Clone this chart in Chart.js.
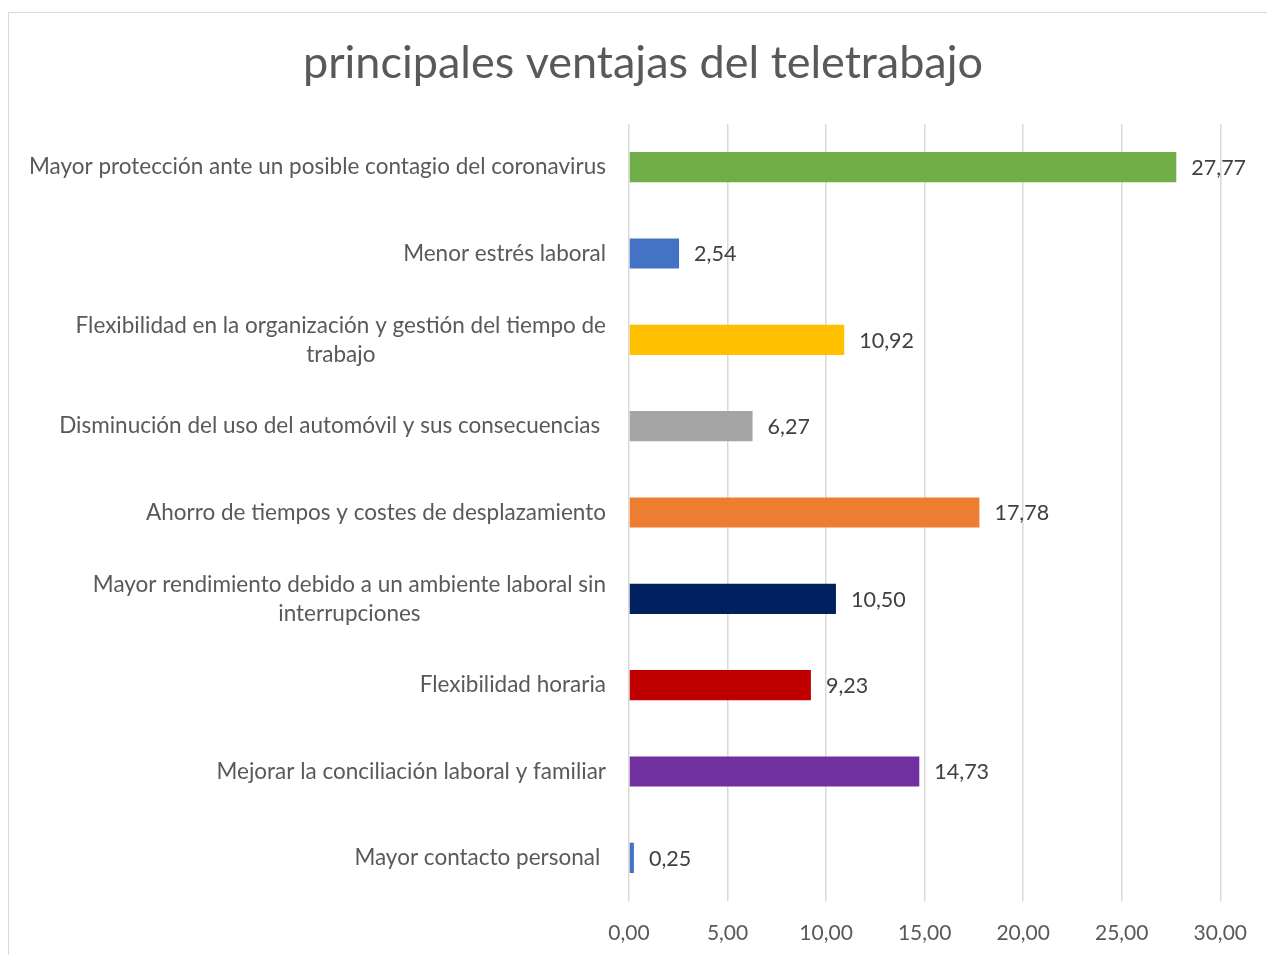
<!DOCTYPE html>
<html>
<head>
<meta charset="utf-8">
<script src="https://cdn.jsdelivr.net/npm/chart.js@4/dist/chart.umd.min.js"></script>
<style>
  html, body { margin: 0; padding: 0; background: #fff; overflow: hidden; }
  #wrap { width: 1267px; height: 955px; position: relative; }
</style>
</head>
<body>
<div id="wrap"><canvas id="chart"></canvas></div>
<script>
// categories, top to bottom (multi-line labels as arrays)
const categories = [
    'Mayor protección ante un posible contagio del coronavirus',
    'Menor estrés laboral',
    ['Flexibilidad en la organización y gestión del tiempo de', 'trabajo'],
    'Disminución del uso del automóvil y sus consecuencias ',
    'Ahorro de tiempos y costes de desplazamiento',
    ['Mayor rendimiento debido a un ambiente laboral sin', 'interrupciones'],
    'Flexibilidad horaria',
    'Mejorar la conciliación laboral y familiar',
    'Mayor contacto personal '
];
const values = [27.77, 2.54, 10.92, 6.27, 17.78, 10.50, 9.23, 14.73, 0.25];
const barColors = ['#70AD47', '#4472C4', '#FFC000', '#A5A5A5', '#ED7D31', '#002060', '#C00000', '#7030A0', '#4472C4'];
const xTicks = [0, 5, 10, 15, 20, 25, 30];
const chartTitle = 'principales ventajas del teletrabajo';

const FONT = 'Lato, "Open Sans", sans-serif';
const fmt = v => v.toFixed(2).replace('.', ',');

// outer border of the chart box + title
const boxPlugin = {
    id: 'box',
    beforeDraw(chart) {
        const ctx = chart.ctx;
        ctx.save();
        ctx.strokeStyle = '#d9d9d9';
        ctx.lineWidth = 1;
        ctx.strokeRect(8.5, 12.5, 1400, 1000);
        ctx.font = '45px ' + FONT;
        ctx.fillStyle = '#595959';
        ctx.textAlign = 'center';
        ctx.textBaseline = 'middle';
        ctx.fillText(chartTitle, 643, 63);
        ctx.restore();
    }
};

// category labels (right aligned, wrapped lines centered) and value labels
const labelPlugin = {
    id: 'labels',
    afterDraw(chart) {
        const ctx = chart.ctx;
        const yScale = chart.scales.y;
        ctx.save();
        ctx.font = '22.5px ' + FONT;
        ctx.textBaseline = 'middle';
        ctx.fillStyle = '#595959';
        const right = 606;
        const lh = 29;
        categories.forEach((lab, i) => {
            const y = yScale.getPixelForTick(i);
            const lines = Array.isArray(lab) ? lab : [lab];
            const maxW = Math.max(...lines.map(l => ctx.measureText(l).width));
            const cx = right - maxW / 2;
            ctx.textAlign = 'center';
            lines.forEach((l, j) => {
                ctx.fillText(l, cx, y + (j - (lines.length - 1) / 2) * lh);
            });
        });
        // value labels
        ctx.font = '21.5px ' + FONT;
        ctx.fillStyle = '#404040';
        ctx.textAlign = 'left';
        const meta = chart.getDatasetMeta(0);
        meta.data.forEach((bar, i) => {
            ctx.fillText(fmt(values[i]), bar.x + 15, bar.y + 1);
        });
        ctx.restore();
    }
};

new Chart(document.getElementById('chart'), {
    type: 'bar',
    data: {
        labels: categories,
        datasets: [{
            data: values,
            backgroundColor: barColors,
            borderWidth: 0,
            barPercentage: 0.7,
            categoryPercentage: 0.5
        }]
    },
    options: {
        indexAxis: 'y',
        responsive: true,
        maintainAspectRatio: false,
        animation: false,
        layout: { padding: { left: 0, right: 43, top: 124, bottom: 0 } },
        plugins: {
            legend: { display: false },
            tooltip: { enabled: false },
            title: { display: false }
        },
        scales: {
            x: {
                min: 0,
                max: 30,
                afterBuildTicks(scale) {
                    scale.ticks = xTicks.map(v => ({ value: v }));
                },
                afterFit(scale) { scale.height = 54; },
                grid: { color: '#d9d9d9', lineWidth: 1.5, drawTicks: false },
                border: { display: false },
                ticks: {
                    color: '#595959',
                    font: { family: FONT, size: 21 },
                    padding: 20,
                    callback: v => fmt(v)
                }
            },
            y: {
                grid: { display: false, drawTicks: false },
                border: { display: false },
                ticks: { display: false },
                afterFit(scale) { scale.width = 629; }
            }
        }
    },
    plugins: [boxPlugin, labelPlugin]
});
</script>
</body>
</html>
